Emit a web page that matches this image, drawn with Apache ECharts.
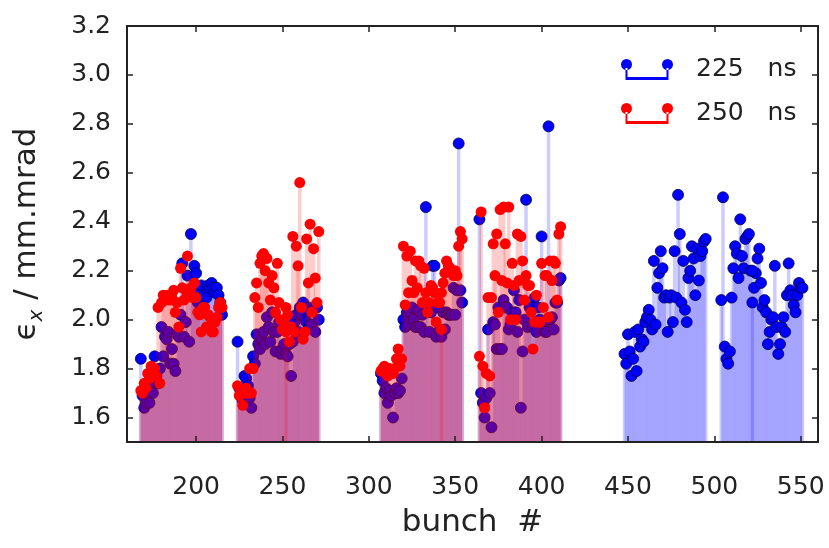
<!DOCTYPE html>
<html>
<head>
<meta charset="utf-8">
<script src="https://cdn.jsdelivr.net/npm/echarts@6/dist/echarts.min.js"></script>
<style>html,body{margin:0;padding:0;background:#fff}#main{width:829px;height:548px}</style>
</head>
<body>
<div id="main"></div>
<script>
// tick labels
var xTicks = [200, 250, 300, 350, 400, 450, 500, 550];
var yTicks = [1.6, 1.8, 2.0, 2.2, 2.4, 2.6, 2.8, 3.0, 3.2];

// first bunch number of each train
var blueStart = [168, 224, 307, 364, 448, 504];
var redStart = [168, 224, 307, 364];

// 225 ns, one value per bunch
var blue1 = [1.84,1.69,1.64,1.66,1.70,1.66,1.72,1.70,1.85,1.77,1.74,1.80,1.97,1.85,1.93,1.92,1.95,1.82,1.88,1.82,
  1.79,1.94,1.93,2.02,2.23,1.93,1.99,2.18,1.91,2.35,2.11,2.22,2.19,2.07,2.12,2.14,2.05,2.10,2.09,2.14,
  2.13,2.15,2.13,2.11,2.13,2.10,2.07,2.02];
var blue2 = [1.91,1.72,1.70,1.67,1.77,1.76,1.73,1.68,1.64,1.85,1.82,1.94,1.90,1.88,1.92,1.95,1.90,2.01,1.97,1.91,
  2.03,1.95,1.87,1.95,1.99,1.86,1.88,1.90,1.86,1.85,1.90,1.77,1.91,1.99,2.02,1.95,2.05,2.02,2.07,2.00,
  1.99,2.05,1.98,1.98,2.05,1.95,2.05,2.00];
var blue3 = [1.78,1.75,1.70,1.72,1.66,1.71,1.69,1.60,1.70,1.72,1.70,1.71,1.76,2.00,1.97,2.03,1.98,2.03,2.05,2.00,
  1.97,1.97,2.04,1.97,2.02,1.95,2.46,2.03,1.95,2.03,2.22,2.22,1.93,2.05,1.96,1.93,2.03,1.96,2.03,2.02,
  2.02,2.02,2.13,2.02,2.12,2.72,2.12,2.07];
var blue4 = [2.41,1.70,1.66,1.60,1.68,1.96,1.70,1.56,1.99,1.98,1.88,2.05,1.88,1.88,2.08,2.05,2.05,1.96,1.98,2.03,
  2.12,2.03,1.95,2.08,1.64,1.87,2.00,2.49,1.97,2.05,2.05,1.97,2.09,1.95,2.05,2.00,2.34,1.98,1.95,1.95,
  2.79,2.00,2.01,1.96,2.07,2.07,2.16,2.17];
var blue5 = [1.86,1.82,1.94,1.87,1.77,1.84,1.95,1.79,1.96,1.89,1.92,1.91,1.99,2.01,2.04,2.00,1.96,2.24,1.98,2.13,
  2.19,2.28,2.21,2.09,2.10,1.95,2.09,2.10,1.99,2.28,2.09,2.51,2.35,2.07,2.24,2.04,1.99,2.17,2.20,2.30,
  2.25,2.10,2.29,2.16,2.26,2.28,2.32,2.33];
var blue6 = [2.08,2.50,1.89,1.84,1.82,1.87,2.09,2.21,2.30,2.27,2.17,2.41,2.26,2.21,2.33,2.34,2.35,2.20,2.07,2.13,
  2.19,2.25,2.29,2.15,2.05,2.08,2.03,1.90,1.95,2.00,2.01,2.22,1.97,1.86,1.90,1.97,2.01,1.95,2.10,2.23,
  2.12,2.10,2.06,2.03,2.10,2.15,2.13,2.13];
var blueExtra = [[522, 2.20]];

// 250 ns
var red1 = [1.71,1.70,1.74,1.72,1.78,1.76,1.81,1.77,1.80,1.77,2.05,1.74,2.07,2.10,2.08,2.10,2.09,2.08,2.09,2.12,
  2.03,2.07,1.97,2.21,2.13,2.08,2.12,2.26,2.11,2.13,2.09,2.15,2.09,2.03,2.02,1.95,2.05,2.05,1.97,2.02,
  2.01,1.95,1.95,1.99,2.01,2.05,2.07,2.05];
var red2 = [1.73,1.69,1.70,1.65,1.70,1.72,1.70,1.80,1.70,1.80,2.09,2.15,2.05,2.23,2.26,2.27,2.20,2.25,2.15,2.08,
  2.18,2.13,2.03,2.23,2.07,2.00,1.96,1.99,1.95,2.02,1.91,1.97,2.34,1.95,2.30,2.22,2.56,2.05,1.92,1.95,
  2.33,2.15,2.39,2.03,2.29,2.17,2.07,2.36];
var red3 = [1.79,1.80,1.81,1.78,1.77,1.80,1.78,1.78,1.80,1.84,1.88,1.81,1.84,2.30,2.06,2.26,2.11,2.28,2.16,2.11,
  2.24,2.13,2.24,2.22,2.07,2.21,2.11,2.03,2.07,2.14,2.13,2.11,1.99,2.07,2.07,2.11,2.15,2.19,2.24,2.22,
  2.21,2.20,2.18,2.20,2.18,2.30,2.36,2.33];
var red4 = [1.85,2.44,1.81,1.64,1.78,2.09,1.77,2.09,2.31,2.18,2.35,2.03,2.45,2.16,2.46,2.31,2.15,2.46,2.00,2.23,
  2.14,2.00,2.35,2.16,2.34,2.24,2.08,2.18,2.14,2.14,2.03,1.88,1.99,2.10,1.99,1.99,2.23,2.05,2.18,2.18,
  2.01,2.24,2.16,2.24,2.23,2.08,2.35,2.38];
var redExtra = [[252, 2.05], [342, 1.96]];

function pairs(starts, trains, extra) {
  var out = [];
  trains.forEach(function (vals, i) {
    vals.forEach(function (v, j) { out.push([starts[i] + j, v]); });
  });
  return out.concat(extra);
}
var blueData = pairs(blueStart, [blue1, blue2, blue3, blue4, blue5, blue6], blueExtra);
var redData = pairs(redStart, [red1, red2, red3, red4], redExtra);

var FONT = 'DejaVu Sans';
var TXT = '#222';
var legendIcon = 'path://M0,5.5a5.5,5.5 0 1,0 11,0a5.5,5.5 0 1,0 -11,0z M41,5.5a5.5,5.5 0 1,0 11,0a5.5,5.5 0 1,0 -11,0z ' +
  'M4.5,9h2v9h39v-9h2v12h-43z';

var axisLine = { show: true, onZero: false, lineStyle: { color: TXT, width: 2 } };

var chart = echarts.init(document.getElementById('main'));
chart.setOption({
  animation: false,
  textStyle: { fontFamily: FONT },
  grid: { left: 127, right: 11, top: 26, bottom: 106 },
  legend: {
    data: ['225 ns', '250 ns'],
    orient: 'vertical',
    left: 616, top: 52,
    itemWidth: 52, itemHeight: 21, itemGap: 19,
    icon: legendIcon,
    selectedMode: false,
    itemStyle: { borderWidth: 0 },
    textStyle: { fontSize: 25, color: TXT, fontFamily: FONT, padding: [0, 0, 0, 18] },
    formatter: function (n) { return n.replace(' ', '   '); }
  },
  xAxis: [{
    type: 'value', min: 160, max: 560, position: 'bottom', z: 10,
    axisLine: axisLine,
    axisTick: { inside: true, length: 6, customValues: xTicks, lineStyle: { color: TXT, width: 1.5 } },
    axisLabel: { customValues: xTicks, fontSize: 25, margin: 33, color: TXT, fontFamily: FONT },
    splitLine: { show: false },
    name: 'bunch  #', nameLocation: 'middle', nameGap: 65,
    nameTextStyle: { fontSize: 31, color: TXT, fontFamily: FONT }
  }, {
    type: 'value', min: 160, max: 560, position: 'top', z: 10,
    axisLine: axisLine,
    axisTick: { inside: true, length: 6, customValues: xTicks, lineStyle: { color: TXT, width: 1.5 } },
    axisLabel: { show: false },
    splitLine: { show: false }
  }],
  yAxis: [{
    type: 'value', min: 1.5, max: 3.2, position: 'left', z: 10,
    axisLine: axisLine,
    axisTick: { inside: true, length: 6, customValues: yTicks, lineStyle: { color: TXT, width: 1.5 } },
    axisLabel: {
      customValues: yTicks, fontSize: 25, margin: 16, color: TXT, fontFamily: FONT,
      formatter: function (v) { return v.toFixed(1); }
    },
    splitLine: { show: false },
    name: '{e|ϵ}{s|x}{e| / mm.mrad}', nameLocation: 'middle', nameGap: 80,
    nameTextStyle: {
      color: TXT,
      rich: {
        e: { fontSize: 31, lineHeight: 40, color: TXT, fontFamily: FONT },
        s: { fontSize: 20, lineHeight: 20, color: TXT, fontFamily: FONT, fontStyle: 'italic', verticalAlign: 'bottom' }
      }
    }
  }, {
    type: 'value', min: 1.5, max: 3.2, position: 'right', z: 10,
    axisLine: axisLine,
    axisTick: { inside: true, length: 6, customValues: yTicks, lineStyle: { color: TXT, width: 1.5 } },
    axisLabel: { show: false },
    splitLine: { show: false }
  }],
  series: [{
    name: '225 ns fill', type: 'bar', data: blueData, z: 1,
    barWidth: 3.5, barGap: '-100%', silent: true,
    itemStyle: { color: 'rgba(0,0,255,0.2)' }
  }, {
    name: '225 ns', type: 'scatter', data: blueData, z: 2,
    symbol: 'circle', symbolSize: 11,
    itemStyle: { color: '#0000ff', borderColor: '#00004a', borderWidth: 0.8, opacity: 1 }
  }, {
    name: '250 ns fill', type: 'bar', data: redData, z: 3,
    barWidth: 3.5, barGap: '-100%', silent: true,
    itemStyle: { color: 'rgba(255,0,0,0.2)' }
  }, {
    name: '250 ns', type: 'scatter', data: redData, z: 4,
    symbol: 'circle', symbolSize: 11,
    itemStyle: { color: '#ff0000', borderWidth: 0, opacity: 1 }
  }]
});
</script>
</body>
</html>
